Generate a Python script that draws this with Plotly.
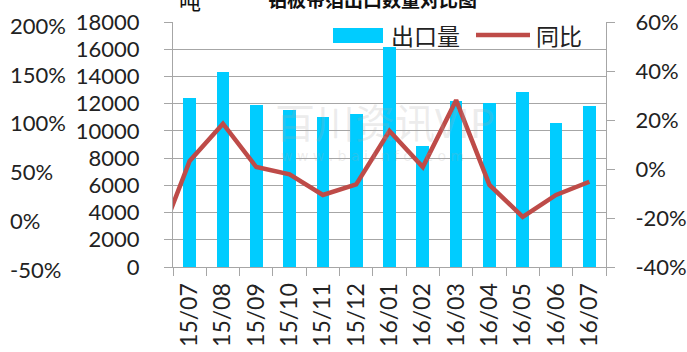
import plotly.graph_objects as go

months = ["15/07", "15/08", "15/09", "15/10", "15/11", "15/12", "16/01",
          "16/02", "16/03", "16/04", "16/05", "16/06", "16/07"]
export_qty = [12400, 14350, 11900, 11550, 11050, 11250, 16200,
              8900, 12200, 12050, 12850, 10600, 11850]
# previous month (15/06) is outside the visible range; only its segment shows
line_months = ["15/06"] + months
yoy = [-32, 3.3, 18.5, 0.8, -2.2, -10.6, -6.3, 15.5, 0.8, 28.1, -6.5, -19.5, -10.6, -5.2]

left_ticks = [0, 2000, 4000, 6000, 8000, 10000, 12000, 14000, 16000, 18000]
left_ticktext = ["0", "2000", "4000", "6000", "8000", "10000", "12000", "14000", "16000", "18000"]
right_tickvals = [-40, -20, 0, 20, 40, 60]
right_ticktext = ["-40%", "-20%", "0%", "20%", "40%", "60%"]
far_tickvals = [-50, 0, 50, 100, 150, 200]
far_ticktext = ["-50%", "0%", "50%", "100%", "150%", "200%"]

series_names = ["出口量", "同比"]
title_text = "铝板带箔出口数量对比图"
unit_text = "吨"

W, H = 687, 352
ML, MR, MT, MB = 0, 81, 15, 77
PW = W - ML - MR
PH = H - MT - MB

def px_x(x):
    return (x - ML) / PW

def px_y(y):
    return (H - MB - y) / PH

grid = "#A6A6A6"
bar_color = "#00CCFF"
line_color = "#BE4B48"
tickfont = dict(family="Lato, Liberation Sans, sans-serif", size=22, color="#222222")
xtickfont = dict(family="Lato, Liberation Sans, sans-serif", size=23, color="#222222")
cjk = "Noto Sans CJK SC"

fig = go.Figure()
fig.add_trace(go.Bar(x=months, y=export_qty, name=series_names[0],
                     marker=dict(color=bar_color, line=dict(width=0)),
                     width=0.38, yaxis="y"))
fig.add_trace(go.Scatter(x=line_months, y=yoy, name=series_names[1], mode="lines",
                         line=dict(color=line_color, width=4.5), yaxis="y2"))
fig.add_trace(go.Scatter(x=[None], y=[None], yaxis="y3", showlegend=False, hoverinfo="skip"))

dom_y = [px_y(267), px_y(22)]
fig.update_layout(
    width=W, height=H,
    margin=dict(l=ML, r=MR, t=MT, b=MB, autoexpand=False),
    plot_bgcolor="rgba(0,0,0,0)", paper_bgcolor="white",
    showlegend=False,
    bargap=0,
    xaxis=dict(domain=[px_x(173), 1], type="category", categoryarray=line_months,
               range=[0.5, 13.5], tickson="boundaries", ticks="outside", ticklen=8,
               tickcolor=grid, showline=True, linecolor=grid, linewidth=1,
               tickangle=-90, tickfont=xtickfont, ticklabelstandoff=6,
               showgrid=False, automargin=False),
    yaxis=dict(domain=dom_y, range=[0, 18000], tickvals=left_ticks, ticktext=left_ticktext,
               ticks="outside", ticklen=8,
               tickcolor=grid, showline=True, linecolor=grid, gridcolor=grid, gridwidth=1,
               tickfont=tickfont, ticklabelstandoff=20, zeroline=False, automargin=False),
    yaxis2=dict(overlaying="y", side="right", range=[-40, 60], tickvals=right_tickvals,
                ticktext=right_ticktext, ticks="outside", ticklen=8, tickcolor=grid,
                showline=True, linecolor=grid, showgrid=False, zeroline=False,
                tickfont=tickfont, ticklabelstandoff=16, automargin=False),
    yaxis3=dict(anchor="free", position=px_x(5), side="right",
                domain=[px_y(270), px_y(26)], range=[-50, 200],
                tickvals=far_tickvals, ticktext=far_ticktext, ticks="",
                showline=False, showgrid=False, zeroline=False, tickfont=tickfont,
                ticklabelstandoff=4, automargin=False),
)

# custom legend (white box over the plot, as in the reference)
fig.add_shape(type="rect", xref="paper", yref="paper",
              x0=px_x(322), x1=px_x(605.5), y0=px_y(47), y1=px_y(22.5),
              fillcolor="white", line=dict(width=0), layer="above")
fig.add_shape(type="rect", xref="paper", yref="paper",
              x0=px_x(333), x1=px_x(383), y0=px_y(43), y1=px_y(28),
              fillcolor=bar_color, line=dict(width=0), layer="above")
fig.add_shape(type="line", xref="paper", yref="paper",
              x0=px_x(476), x1=px_x(530), y0=px_y(35), y1=px_y(35),
              line=dict(color=line_color, width=4.5), layer="above")
fig.add_annotation(text=series_names[0], xref="paper", yref="paper",
                   x=px_x(389), y=px_y(35), xanchor="left", yanchor="middle",
                   showarrow=False, font=dict(family=cjk, size=23, color="#222222"))
fig.add_annotation(text=series_names[1], xref="paper", yref="paper",
                   x=px_x(534), y=px_y(35), xanchor="left", yanchor="middle",
                   showarrow=False, font=dict(family=cjk, size=23, color="#222222"))

fig.add_annotation(text="<b>" + title_text + "</b>", xref="paper", yref="paper",
                   x=px_x(372), y=px_y(-2), xanchor="center", yanchor="middle",
                   showarrow=False, font=dict(family=cjk, size=19, color="#111111"))
fig.add_annotation(text=unit_text, xref="paper", yref="paper",
                   x=px_x(190), y=px_y(-1), xanchor="center", yanchor="middle",
                   showarrow=False, font=dict(family=cjk, size=22, color="#111111"))
# watermark
fig.add_annotation(text="百川资讯VIP", xref="paper", yref="paper",
                   x=px_x(385), y=px_y(121), xanchor="center", yanchor="middle",
                   showarrow=False, font=dict(family=cjk, size=40, color="rgba(170,170,170,0.22)"))
fig.add_annotation(text="w w w . b a i i n f o . c o m", xref="paper", yref="paper",
                   x=px_x(372), y=px_y(156), xanchor="center", yanchor="middle",
                   showarrow=False, font=dict(family="DejaVu Sans", size=14, color="rgba(170,170,170,0.22)"))

fig.write_html("out.html")
